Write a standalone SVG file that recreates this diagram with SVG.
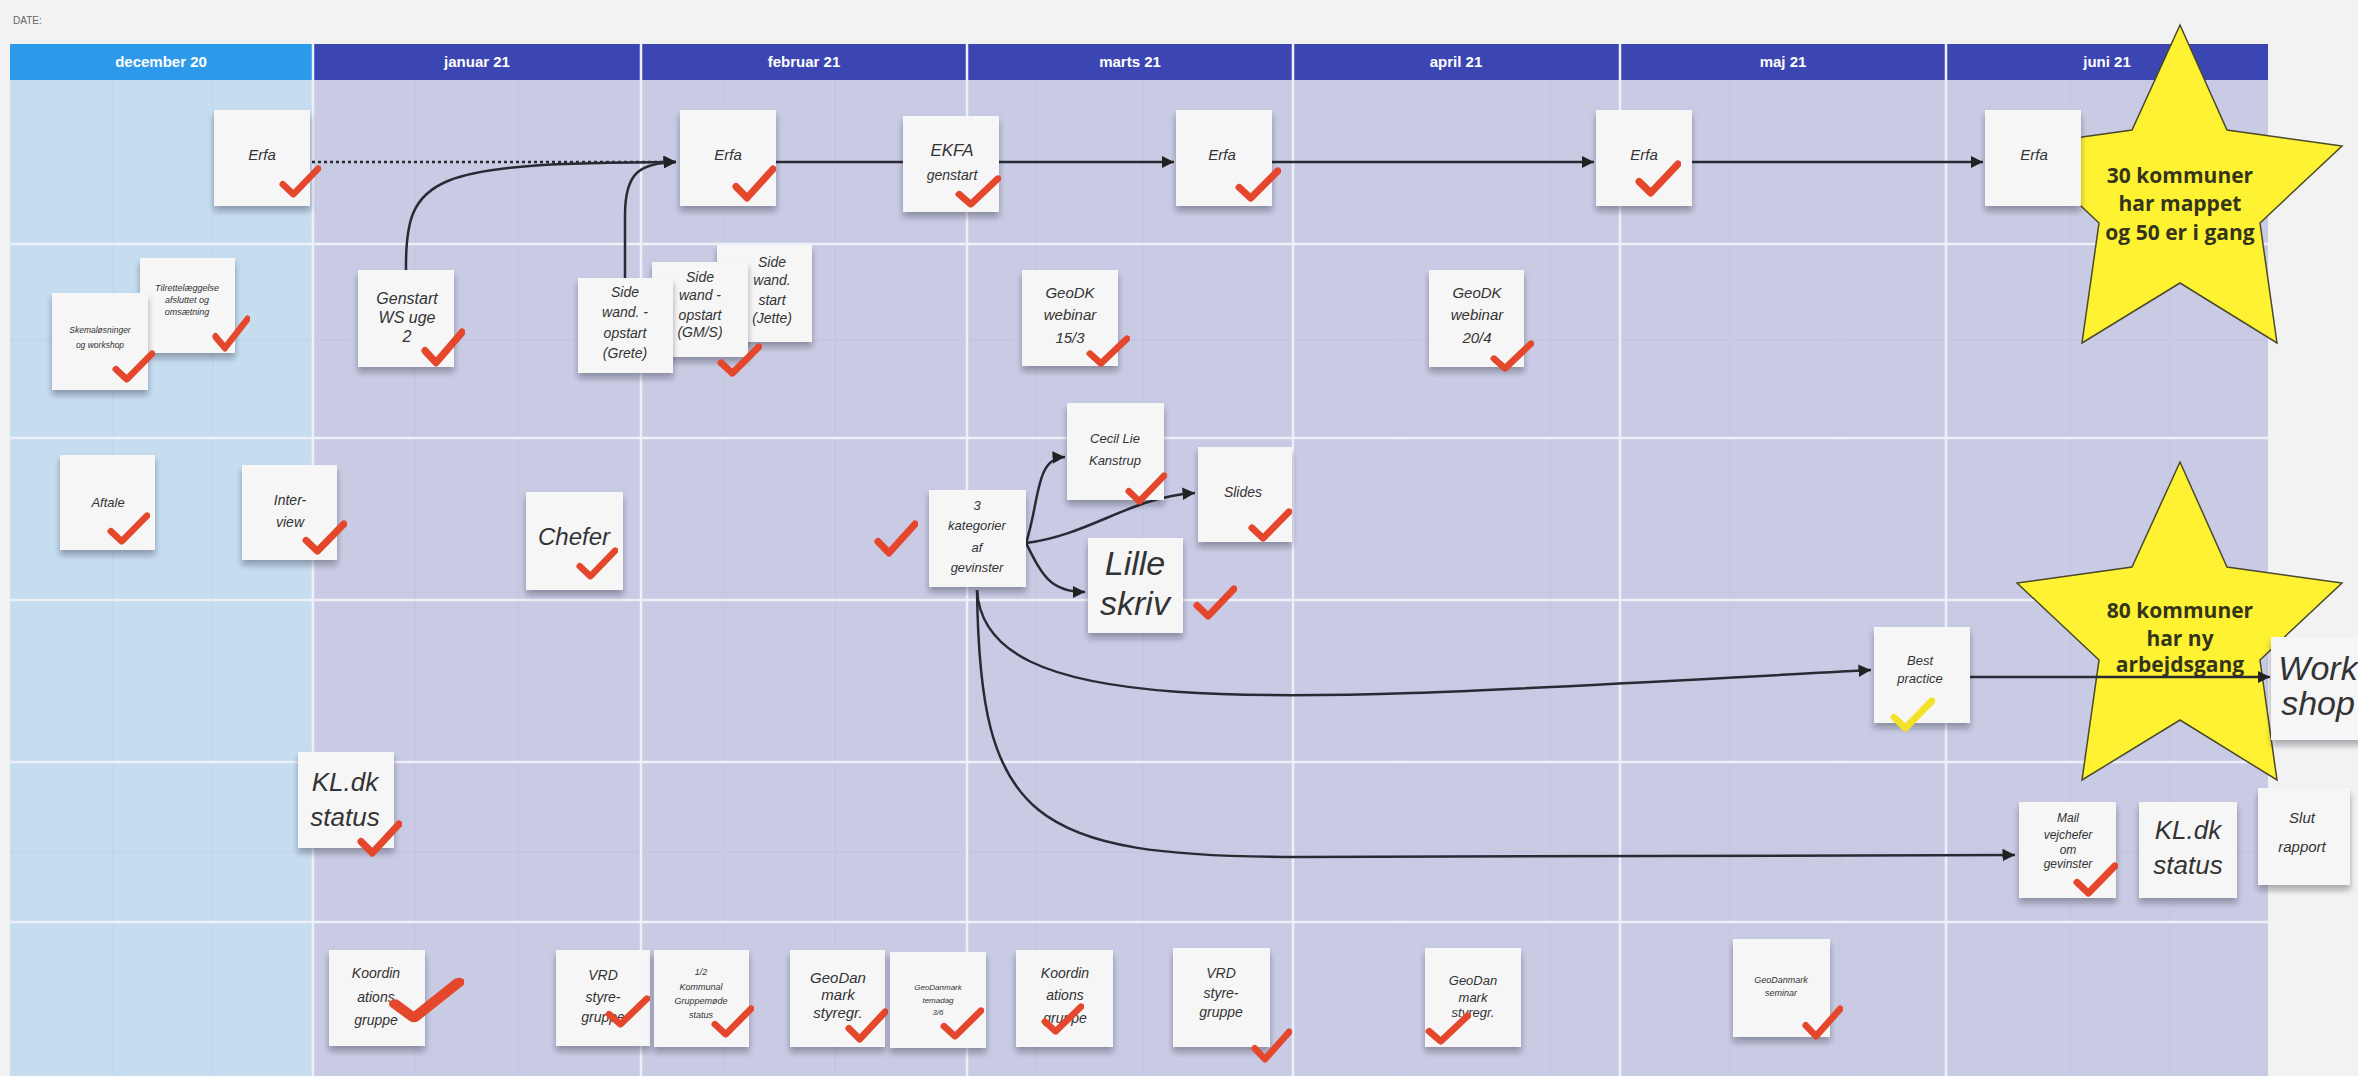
<svg xmlns="http://www.w3.org/2000/svg" width="2358" height="1076" viewBox="0 0 2358 1076">
<defs>
<filter id="sh" x="-15%" y="-15%" width="130%" height="140%"><feDropShadow dx="0" dy="5" stdDeviation="3" flood-color="#1a1a2a" flood-opacity="0.35"/></filter>
<marker id="ah" viewBox="0 0 10 10" refX="10" refY="5" markerWidth="5" markerHeight="5" orient="auto" markerUnits="strokeWidth"><path d="M0,0 L10,5 L0,10 z" fill="#222"/></marker>
<symbol id="chk" viewBox="0 0 44 36" preserveAspectRatio="none"><path d="M4,21 L15,32 L41,4" fill="none" stroke="#e4472b" stroke-width="7" stroke-linecap="round" stroke-linejoin="round"/></symbol>
<symbol id="chky" viewBox="0 0 44 36" preserveAspectRatio="none"><path d="M4,21 L15,32 L41,4" fill="none" stroke="#f2e32a" stroke-width="7" stroke-linecap="round" stroke-linejoin="round"/></symbol>
<style>
.st{fill:#f6f6f7;filter:url(#sh)}
.hw{font-family:"Liberation Sans","DejaVu Sans",sans-serif;font-style:italic;fill:#333333;text-anchor:middle}
.hd{font-family:"Liberation Sans",Arial,sans-serif;font-weight:bold;font-size:15px;fill:#ffffff;text-anchor:middle}
.star{fill:#fff232;stroke:#4a4a2a;stroke-width:1.5}
.stt{font-family:"Open Sans","Liberation Sans",sans-serif;font-weight:bold;font-size:21px;fill:#34341a;text-anchor:middle}
.cn{fill:none;stroke:#2a2a35;stroke-width:2.5}
.dot{stroke-dasharray:3 3}
.sep{stroke:#eef0f8;stroke-width:2.5}
.wk{stroke:#c2c4df;stroke-width:1}
.wkb{stroke:#bdd4e8;stroke-width:1}
</style>
</defs>

<g id="background">
<rect x="0" y="0" width="2358" height="1076" fill="#f2f2f3"/>
<text x="13" y="24" font-family="Liberation Sans, sans-serif" font-size="10" fill="#666">DATE:</text>
<rect x="10" y="80" width="303" height="996" fill="#c6ddf0"/>
<rect x="313" y="80" width="1955" height="996" fill="#c9cbe4"/>
<rect x="10" y="44" width="303" height="36" fill="#2d99ea"/>
<rect x="313" y="44" width="1955" height="36" fill="#3c46b2"/>
<g class="wkb">
<line x1="113" y1="80" x2="113" y2="1076"/><line x1="213" y1="80" x2="213" y2="1076"/>
<line x1="10" y1="340" x2="313" y2="340"/><line x1="10" y1="852" x2="313" y2="852"/>
</g>
<g class="wk">
<line x1="415" y1="80" x2="415" y2="1076"/><line x1="518" y1="80" x2="518" y2="1076"/>
<line x1="725" y1="80" x2="725" y2="1076"/><line x1="835" y1="80" x2="835" y2="1076"/>
<line x1="1036" y1="80" x2="1036" y2="1076"/><line x1="1143" y1="80" x2="1143" y2="1076"/>
<line x1="1400" y1="80" x2="1400" y2="1076"/><line x1="1550" y1="80" x2="1550" y2="1076"/>
<line x1="1730" y1="80" x2="1730" y2="1076"/><line x1="1840" y1="80" x2="1840" y2="1076"/>
<line x1="2070" y1="80" x2="2070" y2="1076"/><line x1="2170" y1="80" x2="2170" y2="1076"/>
<line x1="313" y1="340" x2="2268" y2="340"/><line x1="313" y1="852" x2="2268" y2="852"/>
</g>
<g class="sep">
<line x1="313" y1="44" x2="313" y2="1076"/><line x1="641" y1="44" x2="641" y2="1076"/>
<line x1="967" y1="44" x2="967" y2="1076"/><line x1="1293" y1="44" x2="1293" y2="1076"/>
<line x1="1620" y1="44" x2="1620" y2="1076"/><line x1="1946" y1="44" x2="1946" y2="1076"/>
<line x1="10" y1="244" x2="2268" y2="244"/><line x1="10" y1="438" x2="2268" y2="438"/>
<line x1="10" y1="600" x2="2268" y2="600"/><line x1="10" y1="762" x2="2268" y2="762"/>
<line x1="10" y1="922" x2="2268" y2="922"/>
</g>
<text class="hd" x="161" y="67">december 20</text>
<text class="hd" x="477" y="67">januar 21</text>
<text class="hd" x="804" y="67">februar 21</text>
<text class="hd" x="1130" y="67">marts 21</text>
<text class="hd" x="1456" y="67">april 21</text>
<text class="hd" x="1783" y="67">maj 21</text>
<text class="hd" x="2107" y="67">juni 21</text>
</g>

<g id="star-1">
<polygon class="star" points="2180,25 2227,130 2342,146 2260,223 2277,343 2180,283 2082,343 2099,223 2017,146 2132,130"/>
<text class="stt" x="2180" y="183">30 kommuner</text>
<text class="stt" x="2180" y="211">har mappet</text>
<text class="stt" x="2180" y="240">og 50 er i gang</text>
</g>
<g id="star-2">
<polygon class="star" points="2180,462 2227,567 2342,583 2260,660 2277,780 2180,720 2082,780 2099,660 2017,583 2132,567"/>
<text class="stt" x="2180" y="618">80 kommuner</text>
<text class="stt" x="2180" y="646">har ny</text>
<text class="stt" x="2180" y="672">arbejdsgang</text>
</g>

<g id="connectors">
<path class="cn dot" d="M312,162 L676,162" marker-end="url(#ah)"/>
<path class="cn" d="M406,270 C405,175 430,163 676,162" marker-end="url(#ah)"/>
<path class="cn" d="M625,278 L625,215 C625,172 640,163 676,162" marker-end="url(#ah)"/>
<path class="cn" d="M776,162 L903,162"/>
<path class="cn" d="M999,162 L1174,162" marker-end="url(#ah)"/>
<path class="cn" d="M1271,162 L1594,162" marker-end="url(#ah)"/>
<path class="cn" d="M1692,162 L1983,162" marker-end="url(#ah)"/>
<path class="cn" d="M1026,543 C1040,500 1035,458 1065,457" marker-end="url(#ah)"/>
<path class="cn" d="M1026,543 C1090,535 1130,497 1195,493" marker-end="url(#ah)"/>
<path class="cn" d="M1026,543 C1042,575 1050,592 1085,592" marker-end="url(#ah)"/>
<path class="cn" d="M977,590 C985,730 1300,700 1871,670" marker-end="url(#ah)"/>
<path class="cn" d="M977,590 C980,820 1030,857 1300,857 L2015,855" marker-end="url(#ah)"/>
<path class="cn" d="M1970,677 L2270,677" marker-end="url(#ah)"/>
</g>

<g id="n-erfa-dec"><rect class="st" x="214" y="110" width="96" height="96"/><text class="hw" x="262" y="160" font-size="15">Erfa</text><use href="#chk" x="279" y="165" width="42" height="33"/></g>
<g id="n-erfa-feb"><rect class="st" x="680" y="110" width="96" height="96"/><text class="hw" x="728" y="160" font-size="15">Erfa</text><use href="#chk" x="732" y="165" width="44" height="37"/></g>
<g id="n-ekfa"><rect class="st" x="903" y="116" width="96" height="96"/><text class="hw" x="952" y="156" font-size="17" font-style="normal">EKFA</text><text class="hw" x="952" y="180" font-size="14">genstart</text><use href="#chk" x="955" y="175" width="46" height="33"/></g>
<g id="n-erfa-mar"><rect class="st" x="1176" y="110" width="96" height="96"/><text class="hw" x="1222" y="160" font-size="15">Erfa</text><use href="#chk" x="1235" y="167" width="46" height="35"/></g>
<g id="n-erfa-maj"><rect class="st" x="1596" y="110" width="96" height="96"/><text class="hw" x="1644" y="160" font-size="15">Erfa</text><use href="#chk" x="1635" y="160" width="46" height="37"/></g>
<g id="n-erfa-jun"><rect class="st" x="1985" y="110" width="96" height="96"/><text class="hw" x="2034" y="160" font-size="15">Erfa</text></g>

<g id="n-tilv"><rect class="st" x="140" y="258" width="95" height="95"/><text class="hw" x="187" y="291" font-size="9">Tilrettelæggelse</text><text class="hw" x="187" y="303" font-size="9">afsluttet og</text><text class="hw" x="187" y="315" font-size="9">omsætning</text><use href="#chk" x="212" y="315" width="38" height="37"/></g>
<g id="n-skema"><rect class="st" x="52" y="293" width="96" height="97"/><text class="hw" x="100" y="333" font-size="8.5">Skemaløsninger</text><text class="hw" x="100" y="348" font-size="8.5">og workshop</text><use href="#chk" x="112" y="350" width="43" height="33"/></g>
<g id="n-genstart"><rect class="st" x="358" y="270" width="96" height="97"/><text class="hw" x="407" y="304" font-size="16">Genstart</text><text class="hw" x="407" y="323" font-size="16">WS uge</text><text class="hw" x="407" y="342" font-size="16">2</text><use href="#chk" x="421" y="328" width="44" height="39"/></g>
<g id="n-side-jette"><rect class="st" x="717" y="245" width="95" height="97"/><text class="hw" x="772" y="267" font-size="14">Side</text><text class="hw" x="772" y="285" font-size="14">wand.</text><text class="hw" x="772" y="305" font-size="14">start</text><text class="hw" x="772" y="323" font-size="14">(Jette)</text></g>
<g id="n-side-gms"><rect class="st" x="652" y="262" width="96" height="95"/><text class="hw" x="700" y="282" font-size="14">Side</text><text class="hw" x="700" y="300" font-size="14">wand -</text><text class="hw" x="700" y="320" font-size="14">opstart</text><text class="hw" x="700" y="337" font-size="14">(GM/S)</text><use href="#chk" x="717" y="343" width="45" height="34"/></g>
<g id="n-side-grete"><rect class="st" x="578" y="278" width="95" height="95"/><text class="hw" x="625" y="297" font-size="14">Side</text><text class="hw" x="625" y="317" font-size="14">wand. -</text><text class="hw" x="625" y="338" font-size="14">opstart</text><text class="hw" x="625" y="358" font-size="14">(Grete)</text></g>
<g id="n-geodk-1"><rect class="st" x="1022" y="270" width="96" height="96"/><text class="hw" x="1070" y="298" font-size="15">GeoDK</text><text class="hw" x="1070" y="320" font-size="15">webinar</text><text class="hw" x="1070" y="343" font-size="15">15/3</text><use href="#chk" x="1086" y="335" width="44" height="32"/></g>
<g id="n-geodk-2"><rect class="st" x="1429" y="270" width="95" height="97"/><text class="hw" x="1477" y="298" font-size="15">GeoDK</text><text class="hw" x="1477" y="320" font-size="15">webinar</text><text class="hw" x="1477" y="343" font-size="15">20/4</text><use href="#chk" x="1490" y="340" width="44" height="32"/></g>

<g id="n-aftale"><rect class="st" x="60" y="455" width="95" height="95"/><text class="hw" x="108" y="507" font-size="13">Aftale</text><use href="#chk" x="107" y="512" width="43" height="33"/></g>
<g id="n-interview"><rect class="st" x="242" y="465" width="95" height="95"/><text class="hw" x="290" y="505" font-size="14">Inter-</text><text class="hw" x="290" y="527" font-size="14">view</text><use href="#chk" x="302" y="520" width="45" height="35"/></g>
<g id="n-chefer"><rect class="st" x="526" y="492" width="97" height="98"/><text class="hw" x="574" y="545" font-size="24">Chefer</text><use href="#chk" x="576" y="547" width="42" height="33"/></g>
<g id="mark-lone"><use href="#chk" x="874" y="520" width="44" height="37"/></g>
<g id="n-3kat"><rect class="st" x="929" y="490" width="97" height="97"/><text class="hw" x="977" y="510" font-size="13">3</text><text class="hw" x="977" y="530" font-size="13">kategorier</text><text class="hw" x="977" y="552" font-size="13">af</text><text class="hw" x="977" y="572" font-size="13">gevinster</text></g>
<g id="n-cecil"><rect class="st" x="1067" y="403" width="97" height="97"/><text class="hw" x="1115" y="443" font-size="13">Cecil Lie</text><text class="hw" x="1115" y="465" font-size="13">Kanstrup</text><use href="#chk" x="1125" y="472" width="42" height="33"/></g>
<g id="n-slides"><rect class="st" x="1198" y="447" width="94" height="95"/><text class="hw" x="1243" y="497" font-size="14">Slides</text><use href="#chk" x="1248" y="508" width="44" height="34"/></g>
<g id="n-lille"><rect class="st" x="1088" y="538" width="95" height="95"/><text class="hw" x="1135" y="575" font-size="34">Lille</text><text class="hw" x="1135" y="615" font-size="34">skriv</text><use href="#chk" x="1193" y="585" width="44" height="35"/></g>

<g id="n-best"><rect class="st" x="1874" y="627" width="96" height="96"/><text class="hw" x="1920" y="665" font-size="13">Best</text><text class="hw" x="1920" y="683" font-size="13">practice</text><use href="#chky" x="1890" y="697" width="45" height="35"/></g>
<g id="n-workshop"><rect class="st" x="2271" y="637" width="100" height="103"/><text class="hw" x="2318" y="680" font-size="34">Work</text><text class="hw" x="2318" y="715" font-size="34">shop</text></g>

<g id="n-kl-1"><rect class="st" x="298" y="752" width="96" height="96"/><text class="hw" x="345" y="791" font-size="26">KL.dk</text><text class="hw" x="345" y="826" font-size="26">status</text><use href="#chk" x="357" y="820" width="45" height="37"/></g>
<g id="n-mail"><rect class="st" x="2019" y="802" width="97" height="96"/><text class="hw" x="2068" y="822" font-size="12">Mail</text><text class="hw" x="2068" y="839" font-size="12">vejchefer</text><text class="hw" x="2068" y="854" font-size="12">om</text><text class="hw" x="2068" y="868" font-size="12">gevinster</text><use href="#chk" x="2073" y="862" width="45" height="35"/></g>
<g id="n-kl-2"><rect class="st" x="2139" y="802" width="98" height="96"/><text class="hw" x="2188" y="839" font-size="26">KL.dk</text><text class="hw" x="2188" y="874" font-size="26">status</text></g>
<g id="n-slut"><rect class="st" x="2258" y="788" width="92" height="97"/><text class="hw" x="2302" y="823" font-size="15">Slut</text><text class="hw" x="2302" y="852" font-size="15">rapport</text></g>

<g id="n-koord-1"><rect class="st" x="329" y="950" width="96" height="96"/><text class="hw" x="376" y="978" font-size="14">Koordin</text><text class="hw" x="376" y="1002" font-size="14">ations</text><text class="hw" x="376" y="1025" font-size="14">gruppe</text><use href="#chk" x="388" y="977" width="76" height="46"/></g>
<g id="n-vrd-1"><rect class="st" x="556" y="950" width="94" height="96"/><text class="hw" x="603" y="980" font-size="14">VRD</text><text class="hw" x="603" y="1002" font-size="14">styre-</text><text class="hw" x="603" y="1022" font-size="14">gruppe</text><use href="#chk" x="605" y="995" width="45" height="33"/></g>
<g id="n-half"><rect class="st" x="654" y="950" width="95" height="97"/><text class="hw" x="701" y="975" font-size="9">1/2</text><text class="hw" x="701" y="990" font-size="9">Kommunal</text><text class="hw" x="701" y="1004" font-size="9">Gruppemøde</text><text class="hw" x="701" y="1018" font-size="9">status</text><use href="#chk" x="711" y="1005" width="43" height="33"/></g>
<g id="n-gdm-1"><rect class="st" x="790" y="950" width="95" height="97"/><text class="hw" x="838" y="983" font-size="15">GeoDan</text><text class="hw" x="838" y="1000" font-size="15">mark</text><text class="hw" x="838" y="1018" font-size="15">styregr.</text><use href="#chk" x="845" y="1008" width="43" height="35"/></g>
<g id="n-temadag"><rect class="st" x="890" y="952" width="96" height="96"/><text class="hw" x="938" y="990" font-size="8">GeoDanmark</text><text class="hw" x="938" y="1003" font-size="8">temadag</text><text class="hw" x="938" y="1015" font-size="8">3/6</text><use href="#chk" x="940" y="1007" width="44" height="33"/></g>
<g id="n-koord-2"><rect class="st" x="1016" y="950" width="97" height="97"/><text class="hw" x="1065" y="978" font-size="14">Koordin</text><text class="hw" x="1065" y="1000" font-size="14">ations</text><text class="hw" x="1065" y="1023" font-size="14">gruppe</text><use href="#chk" x="1041" y="1003" width="43" height="32"/></g>
<g id="n-vrd-2"><rect class="st" x="1173" y="948" width="97" height="99"/><text class="hw" x="1221" y="978" font-size="14">VRD</text><text class="hw" x="1221" y="998" font-size="14">styre-</text><text class="hw" x="1221" y="1017" font-size="14">gruppe</text><use href="#chk" x="1251" y="1028" width="41" height="35"/></g>
<g id="n-gdm-2"><rect class="st" x="1425" y="948" width="96" height="99"/><text class="hw" x="1473" y="985" font-size="13">GeoDan</text><text class="hw" x="1473" y="1002" font-size="13">mark</text><text class="hw" x="1473" y="1017" font-size="13">styregr.</text><use href="#chk" x="1425" y="1012" width="46" height="33"/></g>
<g id="n-gdm-3"><rect class="st" x="1733" y="939" width="97" height="98"/><text class="hw" x="1781" y="983" font-size="9">GeoDanmark</text><text class="hw" x="1781" y="996" font-size="9">seminar</text><use href="#chk" x="1802" y="1005" width="41" height="35"/></g>
</svg>
